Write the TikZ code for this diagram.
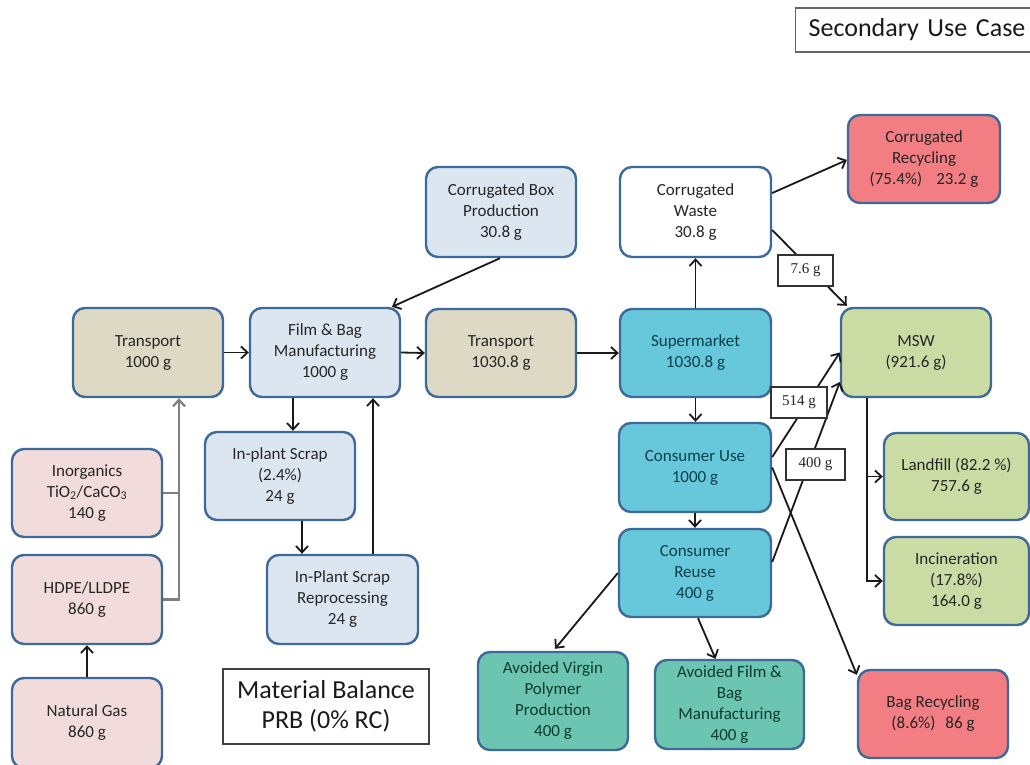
\documentclass[tikz,border=0pt]{standalone}
\usepackage{fontspec}
\setmainfont{Carlito}
\newfontfamily\labserif{Liberation Serif}
\usetikzlibrary{arrows.meta}
\definecolor{bordc}{HTML}{3D6A9B}
\definecolor{tanc}{HTML}{DDD9C4}
\definecolor{lbluec}{HTML}{DCE6F1}
\definecolor{pinkc}{HTML}{F2DCDB}
\definecolor{aquac}{HTML}{67C8DB}
\definecolor{tealc}{HTML}{6CC5B0}
\definecolor{salmonc}{HTML}{F27D82}
\definecolor{olivec}{HTML}{CBDBA4}
\definecolor{txtc}{HTML}{262626}
\definecolor{aquatxt}{HTML}{0A3F4C}
\definecolor{tealtxt}{HTML}{0B3B2E}
\definecolor{grayc}{HTML}{7F7F7F}
\tikzset{
  box/.style={draw=bordc, line width=2.4pt, rounded corners=12pt, align=center,
    inner sep=0pt, text=txtc, font=\fontsize{17}{21}\selectfont},
  lab/.style={draw=black!80, line width=1.4pt, fill=white, inner sep=0pt,
    font=\labserif\fontsize{15}{17}\selectfont, text=black!85},
  arr/.style={line width=1.8pt, draw=black!90, -{Straight Barb[length=6.5pt,width=12pt]}},
  garr/.style={line width=2.3pt, draw=grayc, -{Straight Barb[length=6.5pt,width=12pt]}},
  gline/.style={line width=2.3pt, draw=grayc}
}
\begin{document}
\begin{tikzpicture}[x=1pt,y=-1pt]
\useasboundingbox (0,0) rectangle (1030,764);
\clip (0,0) rectangle (1030,764);
% boxes
\node[box, fill=tanc, minimum width=150, minimum height=89] (tr1) at (148,352.5) {Transport\\1000 g};
\node[box, fill=lbluec, minimum width=150, minimum height=89] (fbm) at (325,352.5) {Film \& Bag\\Manufacturing\\1000 g};
\node[box, fill=lbluec, minimum width=150, minimum height=90] (cbp) at (501,212) {Corrugated Box\\Production\\30.8 g};
\node[box, fill=tanc, minimum width=150, minimum height=88] (tr2) at (501,353) {Transport\\1030.8 g};
\node[box, fill=white, minimum width=151, minimum height=90] (cw) at (695.5,212) {Corrugated\\Waste\\30.8 g};
\node[box, fill=aquac, text=aquatxt, minimum width=151, minimum height=88] (sup) at (695.5,353) {Supermarket\\1030.8 g};
\node[box, fill=salmonc, minimum width=152, minimum height=88] (cr) at (924,159) {Corrugated\\Recycling\\(75.4\%)\hspace{14pt}23.2 g};
\node[box, fill=olivec, minimum width=150, minimum height=89] (msw) at (916,352.5) {MSW\\(921.6 g)};
\node[box, fill=pinkc, minimum width=150, minimum height=88] (inorg) at (87,493) {Inorganics\\TiO\textsubscript{2}/CaCO\textsubscript{3}\\140 g};
\node[box, fill=lbluec, minimum width=150, minimum height=88] (ips) at (280,476) {In-plant Scrap\\(2.4\%)\\24 g};
\node[box, fill=pinkc, minimum width=150, minimum height=89] (hdpe) at (87,599.5) {HDPE/LLDPE\\860 g};
\node[box, fill=pinkc, minimum width=150, minimum height=90] (ng) at (87,723) {Natural Gas\\860 g};
\node[box, fill=lbluec, minimum width=151, minimum height=89] (ipsr) at (342.5,599.5) {In-Plant Scrap\\Reprocessing\\24 g};
\node[draw=black!75, line width=1.4pt, inner sep=0pt, minimum width=206, minimum height=75, align=center,
  font=\fontsize{26}{30}\selectfont, text=black!90] (mb) at (326,706.5) {Material Balance\\PRB (0\% RC)};
\node[box, fill=aquac, text=aquatxt, minimum width=152, minimum height=89] (cu) at (695,467.5) {Consumer Use\\1000 g};
\node[box, fill=aquac, text=aquatxt, minimum width=152, minimum height=88] (crs) at (695,573) {Consumer\\Reuse\\400 g};
\node[box, fill=olivec, minimum width=145, minimum height=87] (lf) at (956.5,476.5) {Landfill (82.2 \%)\\757.6 g};
\node[box, fill=olivec, minimum width=145, minimum height=88] (inc) at (956.5,581) {Incineration\\(17.8\%)\\164.0 g};
\node[box, fill=salmonc, minimum width=150, minimum height=88] (br) at (933,714) {Bag Recycling\\(8.6\%)\hspace{10pt}86 g};
\node[box, fill=tealc, text=tealtxt, minimum width=149, minimum height=89] (afb) at (729.5,704.5) {Avoided Film \&\\Bag\\Manufacturing\\400 g};
\node[box, fill=tealc, text=tealtxt, minimum width=150, minimum height=98] (avp) at (553,701) {Avoided Virgin\\Polymer\\Production\\400 g};
\node[draw=black!60, line width=1.4pt, inner xsep=13pt, inner ysep=0pt, anchor=west, minimum height=44,
  text width=230pt, align=left, font=\fontsize{26}{28}\selectfont, text=black!90] (suc) at (795,30) {Secondary Use Case};
% connectors
\draw[arr] (tr1.east) -- (fbm.west);
\draw[arr] (fbm.east) -- (tr2.west);
\draw[arr] (tr2.east) -- (sup.west);
\draw[arr] ([xshift=-1pt]cbp.south) -- ([xshift=67pt]fbm.north);
\draw[arr] ([xshift=-32pt]fbm.south) -- ([xshift=-32pt]fbm.south |- ips.north);
\draw[arr] ([xshift=22pt]ips.south) -- ([xshift=22pt]ips.south |- ipsr.north);
\draw[arr] ([xshift=30.5pt]ipsr.north) -- ([xshift=30.5pt]ipsr.north |- fbm.south);
\draw[arr] (ng.north) -- (hdpe.south);
\draw[gline] (inorg.east) -- ([xshift=31pt]tr1.south |- inorg.east);
\draw[garr] (hdpe.east) -| ([xshift=31pt]tr1.south);
\draw[arr] (sup.north) -- (cw.south);
\draw[arr] (sup.south) -- (sup.south |- cu.north);
\draw[arr] (cu.south) -- (cu.south |- crs.north);
\draw[arr] ([yshift=19pt]cw.east) -- ([yshift=-1pt]cr.west);
\draw[arr] ([yshift=-18pt]cw.east) -- ([xshift=7pt,yshift=1pt]msw.north west);
\draw[arr] ([yshift=10.5pt]cu.east) -- (msw.west);
\draw[arr] ([yshift=11pt]crs.east) -- ([yshift=-29.5pt]msw.west);
\draw[arr] (cu.east) -- ([yshift=-6pt]br.north west);
\draw[arr] (crs.west) -- ([xshift=2pt,yshift=2pt]avp.north);
\draw[arr] ([xshift=3pt]crs.south) -- ([xshift=-14pt]afb.north);
\draw[arr] ([xshift=-49pt]msw.south) |- (lf.west);
\draw[arr] ([xshift=-49pt]msw.south) |- (inc.west);
% labels on connectors
\node[lab, minimum width=55, minimum height=31] (l76) at (805.5,270.5) {7.6 g};
\node[lab, minimum width=56, minimum height=31] (l514) at (799,402.5) {514 g};
\node[lab, minimum width=59, minimum height=31] (l400) at (815.5,464.5) {400 g};
\end{tikzpicture}
\end{document}
